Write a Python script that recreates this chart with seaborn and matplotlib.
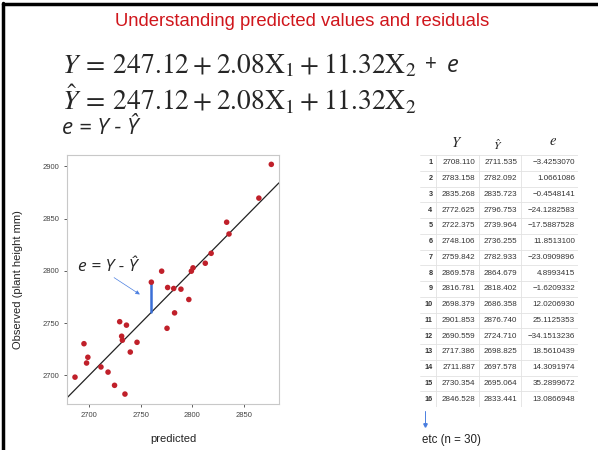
import matplotlib
matplotlib.use("Agg")
import matplotlib.pyplot as plt
import numpy as np
import pandas as pd
import seaborn as sns

# rows shown in the table (observed Y, predicted Y-hat, residual e)
row_ids = list(range(1, 17))
obs_table = [2708.110, 2783.158, 2835.268, 2772.625, 2722.375, 2748.106, 2759.842, 2869.578,
             2816.781, 2698.379, 2901.853, 2690.559, 2717.386, 2711.887, 2730.354, 2846.528]
pred_table = [2711.535, 2782.092, 2835.723, 2796.753, 2739.964, 2736.255, 2782.933, 2864.679,
              2818.402, 2686.358, 2876.740, 2724.710, 2698.825, 2697.578, 2695.064, 2833.441]
resid_table = ["\u22123.4253070", "1.0661086", "\u22120.4548141", "\u221224.1282583",
               "\u221217.5887528", "11.8513100", "\u221223.0909896", "4.8993415",
               "\u22121.6209332", "12.0206930", "25.1125353", "\u221234.1513236",
               "18.5610439", "14.3091974", "35.2899672", "13.0866948"]

# remaining points of the n = 30 sample
pred_rest = [2718.4, 2734.8, 2729.7, 2731.6, 2732.3, 2746.5, 2760.4, 2770.4,
             2775.6, 2776.2, 2789.1, 2799.2, 2800.8, 2812.7]
obs_rest = [2703.2, 2682.2, 2751.4, 2737.5, 2733.7, 2731.7, 2789.2, 2799.7,
            2745.1, 2784.1, 2782.5, 2799.7, 2802.9, 2807.3]

# point used to illustrate the residual
hl_pred = 2760.4
hl_obs = 2789.2

x_ticks = [2700, 2750, 2800, 2850]
y_ticks = [2700, 2750, 2800, 2850, 2900]

sns.set_theme(style="white")
plt.rcParams['font.family'] = ['Liberation Sans', 'DejaVu Sans']
plt.rcParams['mathtext.fontset'] = 'stix'

W, H = 598, 450
fig = plt.figure(figsize=(W / 100, H / 100), dpi=100)


def fx(px):
    return px / W


def fy(py):
    return 1 - py / H


# slide frame
fig.add_artist(plt.Line2D([fx(3), fx(3)], [fy(3), 0], color="black", lw=2.5))
fig.add_artist(plt.Line2D([fx(3), 1], [fy(4), fy(4)], color="black", lw=2.5))

# title and equations
fig.text(fx(302), fy(22), "Understanding predicted values and residuals", color="#d0161c",
         fontsize=13.3, ha="center", va="center")
fig.text(fx(62), fy(66),
         r"$Y\:=\:247.12\:+\:2.08\mathrm{X}_1\:+\:11.32\mathrm{X}_2$",
         fontsize=19.8, ha="left", va="center")
fig.text(fx(431), fy(65), "+", fontsize=15, ha="center", va="center", family="Open Sans")
fig.text(fx(453), fy(66), "e", fontsize=17, style="italic", ha="center", va="center",
         family="Open Sans")
fig.text(fx(62), fy(100),
         r"$\hat{Y}\:=\:247.12\:+\:2.08\mathrm{X}_1\:+\:11.32\mathrm{X}_2$",
         fontsize=19.8, ha="left", va="center")
fig.text(fx(62), fy(129), "e = Y - \u0176", fontsize=16, style="italic", ha="left",
         va="center", family="Open Sans")

# scatter plot
df = pd.DataFrame({
    "predicted": pred_table + pred_rest,
    "observed": obs_table + obs_rest,
})

ax = fig.add_axes([fx(67), fy(404), fx(279) - fx(67), fy(155) - fy(404)])
ax.axline((2700, 2700), slope=1, color="#222222", lw=0.9, zorder=1)
ax.plot([hl_pred, hl_pred], [hl_pred, hl_obs], color="#3b6fd6", lw=1.8, zorder=2)
sns.scatterplot(data=df, x="predicted", y="observed", ax=ax, color="#c0202a",
                s=16, edgecolor="none", zorder=3)
ax.set_xlim(2678.6, 2884.2)
ax.set_ylim(2672.7, 2910.8)
ax.set_xticks(x_ticks)
ax.set_yticks(y_ticks)
ax.tick_params(axis="both", labelsize=5.5, colors="#444444", length=2, width=0.6,
               left=True, bottom=True)
ax.set_xlabel("predicted", fontsize=8, color="#222222", labelpad=11)
ax.set_ylabel("Observed (plant height mm)", fontsize=8, color="#222222", labelpad=14)
for s in ax.spines.values():
    s.set_color("#c8c8c8")
    s.set_linewidth(0.8)

ax.text(2689.5, 2803.5, "e = Y - \u0176", fontsize=12.5, style="italic", family="Open Sans",
        ha="left", va="center")
ax.annotate("", xy=(2751.5, 2776), xytext=(2722, 2795),
            arrowprops=dict(arrowstyle="-|>", color="#4a7ee0", lw=0.5, mutation_scale=6))

# table of values
tab = fig.add_axes([fx(420), fy(407), fx(578) - fx(420), fy(155) - fy(407)])
tab.set_xlim(420, 578)
tab.set_ylim(16, 0)
tab.axis("off")
grid_c = "#e2e2e2"
for i in range(17):
    tab.plot([420, 578], [i, i], color=grid_c, lw=0.6)
for xv in [436, 478.5, 520.5, 578]:
    tab.plot([xv, xv], [0, 16], color=grid_c, lw=0.6)
for i, rid in enumerate(row_ids):
    yc = i + 0.5
    tab.text(432.5, yc, str(rid), fontsize=5.2, fontweight="bold", ha="right", va="center",
             color="#333333")
    tab.text(475, yc, f"{obs_table[i]:.3f}", fontsize=5.8, ha="right", va="center",
             color="#333333")
    tab.text(517.3, yc, f"{pred_table[i]:.3f}", fontsize=5.8, ha="right", va="center",
             color="#333333")
    tab.text(575, yc, resid_table[i], fontsize=5.8, ha="right", va="center",
             color="#333333")

fig.text(fx(456.5), fy(143), r"$Y$", fontsize=10.5, ha="center", va="center")
fig.text(fx(498), fy(146), r"$\hat{Y}$", fontsize=8.5, ha="center", va="center")
fig.text(fx(553), fy(141), r"$e$", fontsize=10.5, ha="center", va="center")

fig.add_artist(plt.Line2D([fx(425), fx(425)], [fy(411), fy(425)], color="#4a7ee0", lw=0.7))
fig.add_artist(plt.Line2D([fx(425)], [fy(425)], color="#4a7ee0", marker="v", markersize=2.5))
fig.text(fx(422), fy(440), "etc (n = 30)", fontsize=8.3, ha="left", va="center",
         color="#222222")

fig.savefig("out.png", dpi=100)
